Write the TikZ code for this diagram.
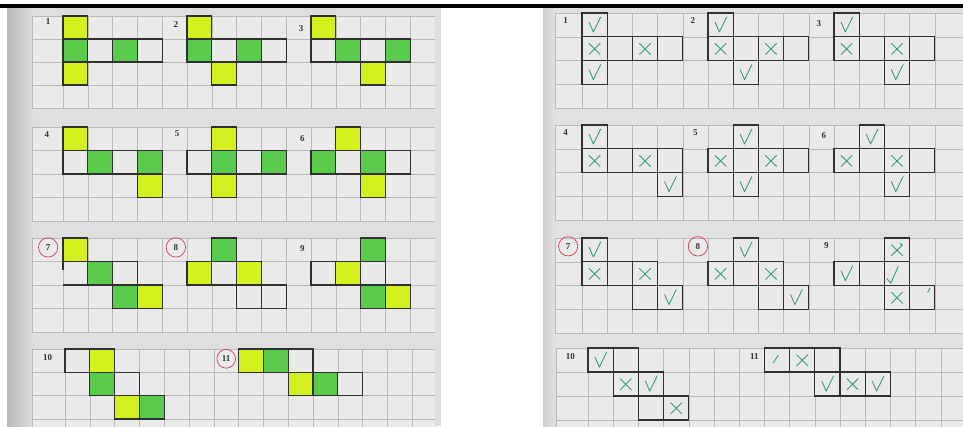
\documentclass[tikz,border=0pt]{standalone}
\usepackage{fontspec}
\setmainfont{Liberation Serif}
\definecolor{yel}{HTML}{D4F01E}
\definecolor{grn}{HTML}{5ACA4C}
\definecolor{wht}{HTML}{E9E9E9}
\definecolor{panelbg}{HTML}{EAEAEA}
\definecolor{paperL}{HTML}{DEDEDE}
\definecolor{paperR}{HTML}{E0E0E0}
\definecolor{gridc}{HTML}{B8B8B8}
\definecolor{penc}{HTML}{3D9A78}
\definecolor{circc}{HTML}{D23A55}
\definecolor{outl}{HTML}{303030}
\tikzset{
  netline/.style={draw=outl,line width=1.3pt,line join=miter},
  gridline/.style={draw=gridc,line width=0.6pt},
  pen/.style={draw=penc,line width=0.9pt,line cap=round,line join=round},
  num/.style={font=\fontsize{9}{10}\selectfont\bfseries,text=black!80,inner sep=0.5pt},
  circ/.style={draw=circc,circle,line width=0.7pt,inner sep=4.2pt}
}
\newcommand{\gridpanel}[2]{%
  \fill[panelbg] (#1,0) rectangle (#2,4);
  \foreach \i in {0,...,14}{\draw[gridline] (\i,0)--(\i,4);}
  \foreach \j in {0,1,2,3,4}{\draw[gridline] (#1,\j)--(#2,\j);}
  \draw[gridline] (#1,0)--(#1,4);
}
\newcommand{\drawnet}[1]{%
  \foreach \c/\r/\f in {#1}{\fill[\f] (\c,\r) rectangle ++(1,1);}
  \foreach \c/\r/\f in {#1}{\draw[netline] (\c,\r) rectangle ++(1,1);}
}
\newcommand{\chk}[2]{\draw[pen] (#1+0.28,#2+0.38) -- (#1+0.45,#2+0.8) -- (#1+0.74,#2+0.17);}
\newcommand{\crs}[2]{\draw[pen] (#1+0.28,#2+0.28) -- (#1+0.72,#2+0.74) (#1+0.28,#2+0.74) -- (#1+0.72,#2+0.28);}
\begin{document}
\begin{tikzpicture}[x=1pt,y=-1pt]
\useasboundingbox (0,0) rectangle (963,426);
\clip (0,0) rectangle (963,426);
\fill[white] (0,0) rectangle (963,426);
% papers
\fill[paperL] (7,8) rectangle (441,426);
\shade[left color=black!27,right color=paperL] (7,8) rectangle (34,426);
\fill[paperR] (543,8) rectangle (963,426);
\shade[left color=black!18,right color=paperR] (543,8) rectangle (556,426);
% top bar
\fill[black] (0,4) rectangle (963,7.5);

% ================= LEFT PHOTO =================
% panel A
\begin{scope}[shift={(63,16)},x=24.8pt,y=-23pt]
  \gridpanel{-1.25}{15}
  \drawnet{0/0/yel,0/1/grn,1/1/wht,2/1/grn,3/1/wht,0/2/yel}
  \drawnet{5/0/yel,5/1/grn,6/1/wht,7/1/grn,8/1/wht,6/2/yel}
  \drawnet{10/0/yel,10/1/wht,11/1/grn,12/1/wht,13/1/grn,12/2/yel}
  \node[num] (n1) at (-0.6,0.25) {1};
  \node[num] (n2) at (4.55,0.35) {2};
  \node[num] (n3) at (9.6,0.55) {3};
\end{scope}
% panel B
\begin{scope}[shift={(63,127)},x=24.8pt,y=-23.5pt]
  \gridpanel{-1.25}{15}
  \drawnet{0/0/yel,0/1/wht,1/1/grn,2/1/wht,3/1/grn,3/2/yel}
  \drawnet{6/0/yel,5/1/wht,6/1/grn,7/1/wht,8/1/grn,6/2/yel}
  \drawnet{11/0/yel,10/1/grn,11/1/wht,12/1/grn,13/1/wht,12/2/yel}
  \node[num] (n4) at (-0.65,0.3) {4};
  \node[num] (n5) at (4.6,0.3) {5};
  \node[num] (n6) at (9.65,0.5) {6};
\end{scope}
% panel C
\begin{scope}[shift={(63,238)},x=24.8pt,y=-23.5pt]
  \gridpanel{-1.25}{15}
  \fill[yel] (0,0) rectangle ++(1,1);
  \draw[netline] (0,0) rectangle ++(1,1);
  \draw[netline] (0,2) -- (1,2) (0,1) -- (0,1.35);
  \drawnet{1/1/grn,2/1/wht,2/2/grn,3/2/yel}
  \drawnet{6/0/grn,5/1/yel,6/1/wht,7/1/yel,7/2/wht,8/2/wht}
  \drawnet{12/0/grn,10/1/wht,11/1/yel,12/1/wht,12/2/grn,13/2/yel}
  \node[num,circ] (n7) at (-0.6,0.4) {7};
  \node[num,circ] (n8) at (4.55,0.4) {8};
  \node[num] (n9) at (9.65,0.45) {9};
\end{scope}
% panel D
\begin{scope}[shift={(65,349)},x=24.8pt,y=-23.3pt]
  \gridpanel{-1.3}{14.9}
  \drawnet{0/0/wht,1/0/yel,1/1/grn,2/1/wht,2/2/yel,3/2/grn}
  \drawnet{7/0/yel,8/0/grn,9/0/wht,9/1/yel,10/1/grn,11/1/wht}
  \node[num] (n10) at (-0.7,0.35) {10};
  \node[num,circ,inner sep=3pt] (n11) at (6.5,0.42) {11};
\end{scope}

% ================= RIGHT PHOTO =================
% panel A
\begin{scope}[shift={(582,13)},x=25.2pt,y=-23.8pt]
  \gridpanel{-1.07}{15.3}
  \drawnet{0/0/wht,0/1/wht,1/1/wht,2/1/wht,3/1/wht,0/2/wht}
  \drawnet{5/0/wht,5/1/wht,6/1/wht,7/1/wht,8/1/wht,6/2/wht}
  \drawnet{10/0/wht,10/1/wht,11/1/wht,12/1/wht,13/1/wht,12/2/wht}
  \chk{0}{0}\crs{0}{1}\crs{2}{1}\chk{0}{2}
  \chk{5}{0}\crs{5}{1}\crs{7}{1}\chk{6}{2}
  \chk{10}{0}\crs{10}{1}\crs{12}{1}\chk{12}{2}
  \node[num] (m1) at (-0.65,0.3) {1};
  \node[num] (m2) at (4.4,0.3) {2};
  \node[num] (m3) at (9.4,0.45) {3};
\end{scope}
% panel B
\begin{scope}[shift={(582,125)},x=25.2pt,y=-23.8pt]
  \gridpanel{-1.07}{15.3}
  \drawnet{0/0/wht,0/1/wht,1/1/wht,2/1/wht,3/1/wht,3/2/wht}
  \drawnet{6/0/wht,5/1/wht,6/1/wht,7/1/wht,8/1/wht,6/2/wht}
  \drawnet{11/0/wht,10/1/wht,11/1/wht,12/1/wht,13/1/wht,12/2/wht}
  \chk{0}{0}\crs{0}{1}\crs{2}{1}\chk{3}{2}
  \chk{6}{0}\crs{5}{1}\crs{7}{1}\chk{6}{2}
  \chk{11}{0}\crs{10}{1}\crs{12}{1}\chk{12}{2}
  \node[num] (m4) at (-0.65,0.3) {4};
  \node[num] (m5) at (4.5,0.3) {5};
  \node[num] (m6) at (9.6,0.45) {6};
\end{scope}
% panel C
\begin{scope}[shift={(582,238)},x=25.2pt,y=-23.8pt]
  \gridpanel{-1.07}{15.3}
  \drawnet{0/0/wht,0/1/wht,1/1/wht,2/1/wht,2/2/wht,3/2/wht}
  \drawnet{6/0/wht,5/1/wht,6/1/wht,7/1/wht,7/2/wht,8/2/wht}
  \drawnet{12/0/wht,10/1/wht,11/1/wht,12/1/wht,12/2/wht,13/2/wht}
  \chk{0}{0}\crs{0}{1}\crs{2}{1}\chk{3}{2}
  \chk{6}{0}\crs{5}{1}\crs{7}{1}\chk{8}{2}
  \crs{12}{0}\draw[pen] (12.62,0.22)--(12.7,0.32);
  \chk{10}{1}\draw[pen] (12.1,1.7)--(12.25,1.9)--(12.55,1.2);
  \crs{12}{2}\draw[pen] (13.72,2.28)--(13.8,2.12);
  \node[num,circ] (m7) at (-0.55,0.35) {7};
  \node[num,circ] (m8) at (4.6,0.35) {8};
  \node[num] (m9) at (9.7,0.3) {9};
\end{scope}
% panel D
\begin{scope}[shift={(588,348)},x=25.2pt,y=-24pt]
  \gridpanel{-1.25}{15}
  \drawnet{0/0/wht,1/0/wht,1/1/wht,2/1/wht,2/2/wht,3/2/wht}
  \drawnet{7/0/wht,8/0/wht,9/0/wht,9/1/wht,10/1/wht,11/1/wht}
  \chk{0}{0}\crs{1}{1}\chk{2}{1}\crs{3}{2}
  \draw[pen] (7.35,0.62)--(7.55,0.3);
  \crs{8}{0}\chk{9}{1}\crs{10}{1}\chk{11}{1}
  \node[num] (m10) at (-0.7,0.35) {10};
  \node[num] (m11) at (6.6,0.35) {11};
\end{scope}
\end{tikzpicture}
\end{document}
